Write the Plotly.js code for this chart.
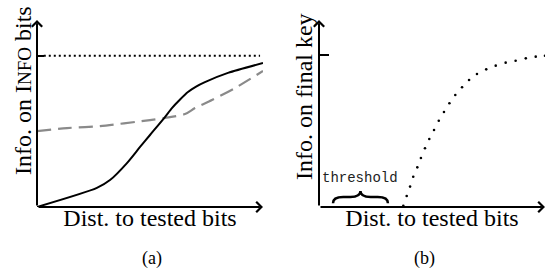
<!DOCTYPE html>
<html>
<head>
<meta charset="utf-8">
<script src="https://cdn.plot.ly/plotly-3.0.1.min.js"></script>
<style>html,body{margin:0;padding:0;background:#fff;}#chart{width:546px;height:276px;}</style>
</head>
<body>
<div id="chart"></div>
<script>
// Panel (a): information on INFO bits vs distance to tested bits (normalised units)
var solidX = [0, 0.265, 0.323, 0.398, 0.456, 0.5, 0.566, 0.597, 0.633, 0.668, 0.704, 0.743, 0.845, 1.0];
var solidY = [0, 0.102, 0.144, 0.235, 0.321, 0.385, 0.481, 0.529, 0.575, 0.615, 0.644, 0.668, 0.717, 0.77];
var dashX = [0, 0.133, 0.279, 0.5, 0.566, 0.655, 0.699, 0.774, 0.876, 1.0];
var dashY = [0.406, 0.422, 0.433, 0.465, 0.476, 0.497, 0.529, 0.572, 0.636, 0.727];
var maxLevelA = 0.809;
var maxLineX = [0.03, 0.987];
// Panel (b): information on final key
var keyX = [0.373, 0.388, 0.403, 0.417, 0.435, 0.451, 0.469, 0.488, 0.509, 0.530, 0.553, 0.577,
            0.603, 0.633, 0.664, 0.699, 0.740, 0.782, 0.826, 0.870, 0.915, 0.959, 1.0];
var keyY = [0.007, 0.059, 0.109, 0.162, 0.212, 0.262, 0.314, 0.364, 0.412, 0.461, 0.508, 0.555,
            0.599, 0.640, 0.679, 0.711, 0.736, 0.756, 0.772, 0.782, 0.795, 0.804, 0.809];
var maxLevelB = 0.813;
var thresholdRange = [0.062, 0.305];
var yTitleA = 'Info. on I<span style="font-size:19px">NFO</span> bits';
var yTitleB = 'Info. on final key';
var xTitle = 'Dist. to tested bits';

var serif = "'Liberation Serif', 'Times New Roman', serif";

var traces = [
  {x: maxLineX, y: [maxLevelA, maxLevelA], xaxis: 'x', yaxis: 'y', mode: 'lines',
   line: {color: '#000', width: 2, dash: '2px,3px'}, hoverinfo: 'skip'},
  {x: dashX, y: dashY, xaxis: 'x', yaxis: 'y', mode: 'lines',
   line: {color: '#8a8a8a', width: 2.2, dash: '14px,7px', shape: 'spline', smoothing: 0.8}},
  {x: solidX, y: solidY, xaxis: 'x', yaxis: 'y', mode: 'lines',
   line: {color: '#000', width: 2, shape: 'spline', smoothing: 0.7}},
  {x: keyX, y: keyY, xaxis: 'x2', yaxis: 'y2', mode: 'markers',
   marker: {color: '#000', size: 2.6}}
];

function hidden(extra) {
  var a = {range: [0, 1], showline: false, zeroline: false, showgrid: false,
           showticklabels: false, ticks: '', fixedrange: true};
  for (var k in extra) a[k] = extra[k];
  return a;
}

function arrow(xr, yr, x, y) {
  return {xref: xr, yref: yr, axref: xr, ayref: yr, x: x, y: y, ax: 0, ay: 0,
          text: '', showarrow: true, arrowhead: 4, arrowsize: 1, arrowwidth: 2,
          arrowcolor: '#000', standoff: 0, startstandoff: 0};
}

var tc = (thresholdRange[0] + thresholdRange[1]) / 2;
var x0 = thresholdRange[0], x1 = thresholdRange[1];
var yb = 0.02, ym = 0.053, yt = 0.085, c = 0.045;
var bracePath = 'M' + x0 + ',' + yb + ' Q' + x0 + ',' + ym + ' ' + (x0 + c) + ',' + ym +
  ' L' + (tc - c) + ',' + ym + ' Q' + tc + ',' + ym + ' ' + tc + ',' + yt +
  ' Q' + tc + ',' + ym + ' ' + (tc + c) + ',' + ym +
  ' L' + (x1 - c) + ',' + ym + ' Q' + x1 + ',' + ym + ' ' + x1 + ',' + yb;

var titleFont = {family: serif, size: 24, color: '#000'};

var layout = {
  width: 546, height: 276,
  margin: {l: 0, r: 0, t: 0, b: 0},
  paper_bgcolor: '#fff', plot_bgcolor: 'rgba(0,0,0,0)',
  showlegend: false,
  font: {family: serif, color: '#000'},
  xaxis: hidden({domain: [37 / 546, 263 / 546], anchor: 'y',
    title: {text: xTitle, font: titleFont, standoff: 2}}),
  yaxis: hidden({domain: [1 - 207 / 276, 1 - 20 / 276], anchor: 'x',
    tickvals: [maxLevelA], ticks: 'inside', ticklen: 7, tickwidth: 2, tickcolor: '#000'}),
  xaxis2: hidden({domain: [319 / 546, 545 / 546], anchor: 'y2',
    title: {text: xTitle, font: titleFont, standoff: 2}}),
  yaxis2: hidden({domain: [1 - 207 / 276, 1 - 20 / 276], anchor: 'x2',
    tickvals: [maxLevelB], ticks: 'inside', ticklen: 10, tickwidth: 2, tickcolor: '#000'}),
  annotations: [
    arrow('x', 'y', 1, 0), arrow('x', 'y', 0, 1),
    arrow('x2', 'y2', 1, 0), arrow('x2', 'y2', 0, 1),
    {xref: 'paper', yref: 'paper', x: 23 / 546, y: 1 - 91 / 276, text: yTitleA, textangle: -90,
     xanchor: 'center', yanchor: 'middle', showarrow: false, font: titleFont},
    {xref: 'paper', yref: 'paper', x: 304 / 546, y: 1 - 97 / 276, text: yTitleB, textangle: -90,
     xanchor: 'center', yanchor: 'middle', showarrow: false, font: titleFont},
    {xref: 'x2', yref: 'y2', x: tc, y: 0.155, text: 'threshold', showarrow: false,
     xanchor: 'center', yanchor: 'middle',
     font: {family: "'Liberation Mono', 'DejaVu Sans Mono', monospace", size: 14, color: '#222'}},
    {xref: 'paper', yref: 'paper', x: 152 / 546, y: 1 - 258 / 276, text: '(a)', showarrow: false,
     xanchor: 'center', yanchor: 'middle', font: {family: serif, size: 18, color: '#000'}},
    {xref: 'paper', yref: 'paper', x: 424 / 546, y: 1 - 258 / 276, text: '(b)', showarrow: false,
     xanchor: 'center', yanchor: 'middle', font: {family: serif, size: 18, color: '#000'}}
  ],
  shapes: [
    {type: 'path', xref: 'x2', yref: 'y2', path: bracePath,
     line: {color: '#000', width: 2.5}}
  ]
};

Plotly.newPlot('chart', traces, layout, {staticPlot: true, displayModeBar: false});
</script>
</body>
</html>
